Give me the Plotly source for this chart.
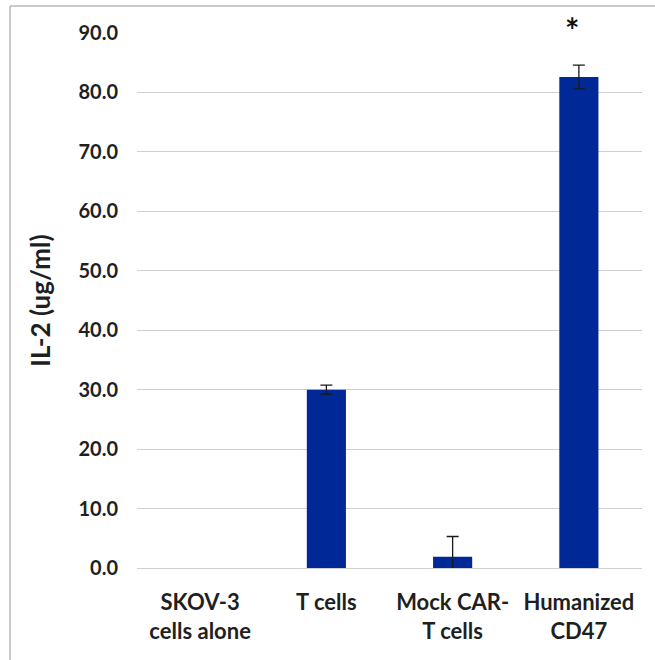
import plotly.graph_objects as go

categories = ["SKOV-3<br>cells alone", "T cells", "Mock CAR-<br>T cells", "Humanized<br>CD47"]
values = [0.0, 30.0, 1.9, 82.6]
errors = [0.0, 0.75, 3.4, 2.0]
y_ticks = [0, 10, 20, 30, 40, 50, 60, 70, 80, 90]
y_title = "IL-2 (ug/ml)"
sig_category = "Humanized<br>CD47"
sig_mark = "*"

FONT = "Lato"
TXT = "#1f1f1f"

fig = go.Figure()
fig.add_trace(go.Bar(
    x=categories, y=values,
    marker=dict(color="#002896", line=dict(width=0)),
    width=0.31,
))

# error bars only where an error exists
eb = [(c, v, e) for c, v, e in zip(categories, values, errors) if e > 0]
fig.add_trace(go.Scatter(
    x=[t[0] for t in eb], y=[t[1] for t in eb], mode="markers",
    marker=dict(size=1, opacity=0),
    error_y=dict(type="data", array=[t[2] for t in eb], visible=True,
                 color="#1a1a1a", thickness=1.3, width=6),
    hoverinfo="skip",
))

fig.add_annotation(x=sig_category, y=1.0243, xref="x", yref="paper",
                   text=sig_mark, showarrow=False, xshift=-7, yshift=-10,
                   font=dict(family=FONT, size=34, color="#111111", weight="bold"),
                   yanchor="middle")

# outer frame (left and top edges; the others fall outside the picture)
FRAME = dict(color="#b8b8b8", width=1.5)
fig.add_shape(type="line", xref="paper", yref="paper",
              x0=-0.2515, x1=1.1, y0=1.0505, y1=1.0505, line=FRAME, layer="above")
fig.add_shape(type="line", xref="paper", yref="paper",
              x0=-0.2515, x1=-0.2515, y0=-0.3, y1=1.0505, line=FRAME, layer="above")

fig.update_layout(
    width=655, height=660,
    margin=dict(l=137, r=13, t=33, b=92),
    paper_bgcolor="white", plot_bgcolor="white",
    showlegend=False,
    bargap=0.69,
    font=dict(family=FONT, color=TXT),
    xaxis=dict(
        type="category",
        tickfont=dict(family=FONT, size=22, color=TXT, weight="bold"),
        showline=False, showgrid=False, ticks="", ticklabelstandoff=19,
    ),
    yaxis=dict(
        range=[0, 90],
        tickvals=y_ticks,
        ticktext=[f"{v:.1f}" for v in y_ticks],
        tickfont=dict(family=FONT, size=20, color=TXT, weight="bold"),
        showgrid=True, gridcolor="#cfcfcf", gridwidth=1,
        zeroline=True, zerolinecolor="#cfcfcf", zerolinewidth=1,
        showline=False, ticks="", ticklabelstandoff=18,
        title=dict(text=y_title, standoff=20,
                   font=dict(family=FONT, size=26, color=TXT, weight="bold")),
    ),
)

fig.write_html("out.html", config={"displayModeBar": False},
               post_script="document.body.style.margin='0px';document.body.style.overflow='hidden';")
